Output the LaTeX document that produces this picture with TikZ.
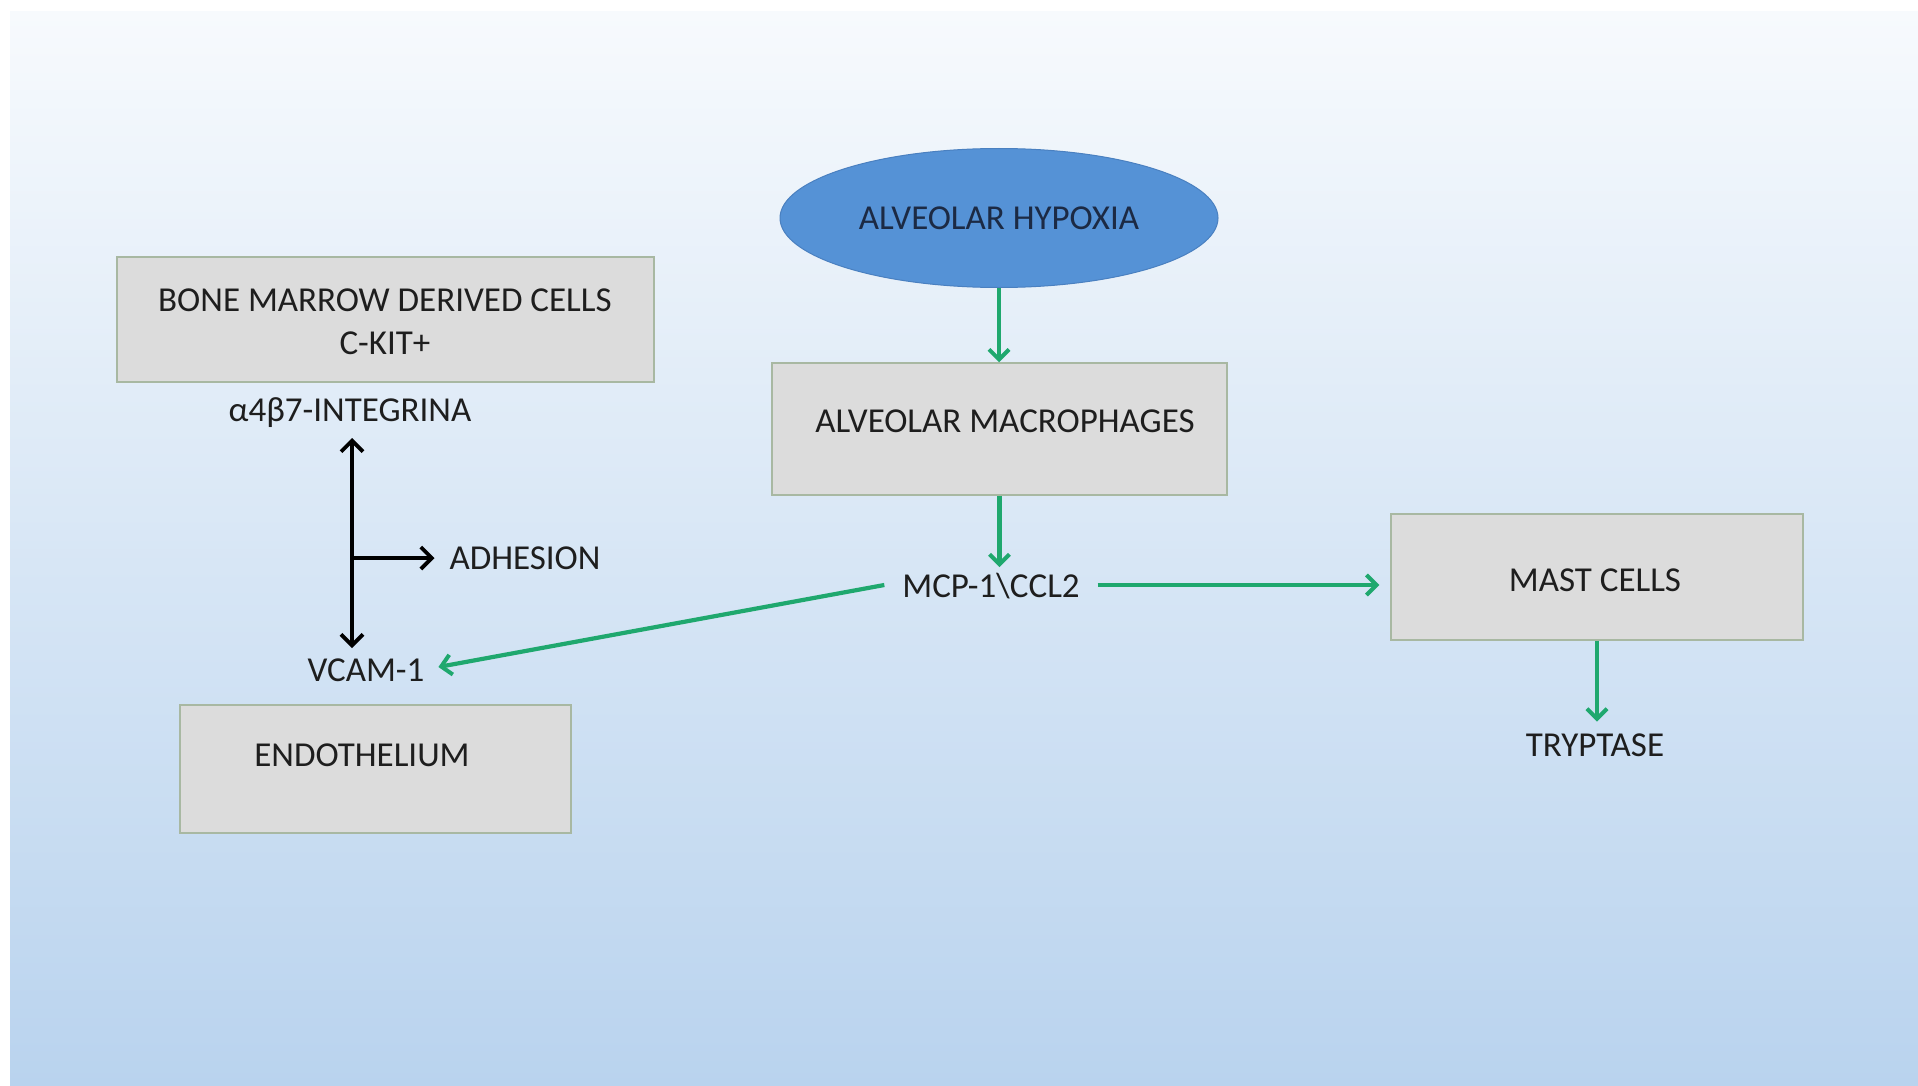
\documentclass[tikz,border=0pt]{standalone}
\usepackage{fontspec}
\setmainfont{Carlito}
\usetikzlibrary{arrows.meta,shapes.geometric}
\definecolor{boxfill}{HTML}{DCDCDC}
\definecolor{boxline}{HTML}{A8B8A2}
\definecolor{ellfill}{HTML}{5592D6}
\definecolor{ellline}{HTML}{4A80C0}
\definecolor{navy}{HTML}{1C2A44}
\definecolor{txt}{HTML}{1E1E1E}
\definecolor{garrowc}{HTML}{1FA86E}
\definecolor{bgtop}{HTML}{F7FAFD}
\definecolor{bgbot}{HTML}{B9D3EE}
\tikzset{
  every node/.style={font=\fontsize{35}{43}\selectfont, text=txt},
  cellbox/.style={draw=boxline, line width=1.5pt, fill=boxfill, rectangle, inner sep=0pt},
  plain/.style={inner sep=0pt, outer sep=17pt, align=center},
  garrow/.style={draw=garrowc, line width=4.2pt, -{Straight Barb[length=10pt,width=20pt,line width=4pt]}},
  barrow/.style={draw=black, line width=3.8pt},
  btip/.tip={Straight Barb[length=11pt,width=22pt,line width=3.8pt]}
}
\begin{document}
\begin{tikzpicture}[x=1pt,y=-1pt]
\useasboundingbox (0,0) rectangle (1918,1086);
\fill[white] (0,0) rectangle (1918,1086);
\shade[top color=bgtop, bottom color=bgbot] (10,12) rectangle (1918,1086);

% boxes
\node[cellbox, minimum width=537pt, minimum height=125pt] (bone) at (385.5,319.5) {};
\node[inner sep=0pt, align=center] (bonetxt) at (385,322) {BONE MARROW DERIVED CELLS\\C-KIT+};
\node[cellbox, minimum width=455pt, minimum height=132pt] (macro) at (999.5,429) {};
\node[inner sep=0pt] (macrotxt) at (1005,421) {ALVEOLAR MACROPHAGES};
\node[cellbox, minimum width=412pt, minimum height=126pt] (mast) at (1597,577) {};
\node[inner sep=0pt] (masttxt) at (1595,580) {MAST CELLS};
\node[cellbox, minimum width=391pt, minimum height=128pt] (endo) at (375.5,769) {};
\node[inner sep=0pt] (endotxt) at (362,755) {ENDOTHELIUM};

% ellipse
\node[ellipse, draw=ellline, line width=1pt, fill=ellfill, minimum width=438pt, minimum height=139pt, inner sep=0pt, text=navy] (hyp) at (999,218) {ALVEOLAR HYPOXIA};

% plain labels
\node[plain, outer sep=18pt] (mcp) at (991,586) {MCP-1\textbackslash CCL2};
\node[plain, outer sep=12pt] (tryp) at (1595,745) {TRYPTASE};
\node[plain, outer sep=12pt] (vcam) at (366,670) {VCAM-1};
\node[plain, outer sep=10pt] (integ) at (350,413) {α4β7-INTEGRINA};
\node[plain, outer sep=15pt] (adh) at (525,558) {ADHESION};
\coordinate (branch) at (352,558);

% green arrows
\draw[garrow] (hyp.south) -- (hyp.south |- macro.north);
\draw[garrow] (macro.south) -- ([yshift=-12pt]macro.south |- mcp.north);
\draw[garrow] ([yshift=1pt]mcp.east) -- ([xshift=-11pt,yshift=1pt]mcp.east -| mast.west);
\draw[garrow] (mast.south) -- (mast.south |- tryp.north);
\draw[garrow] ([yshift=1pt]mcp.west) -- ([xshift=2pt,yshift=3pt]vcam.east);

% black arrows
\draw[barrow, btip-btip] (352,438) -- (352,648);
\draw[barrow, -btip] (branch) -- (adh.west);
\end{tikzpicture}
\end{document}
